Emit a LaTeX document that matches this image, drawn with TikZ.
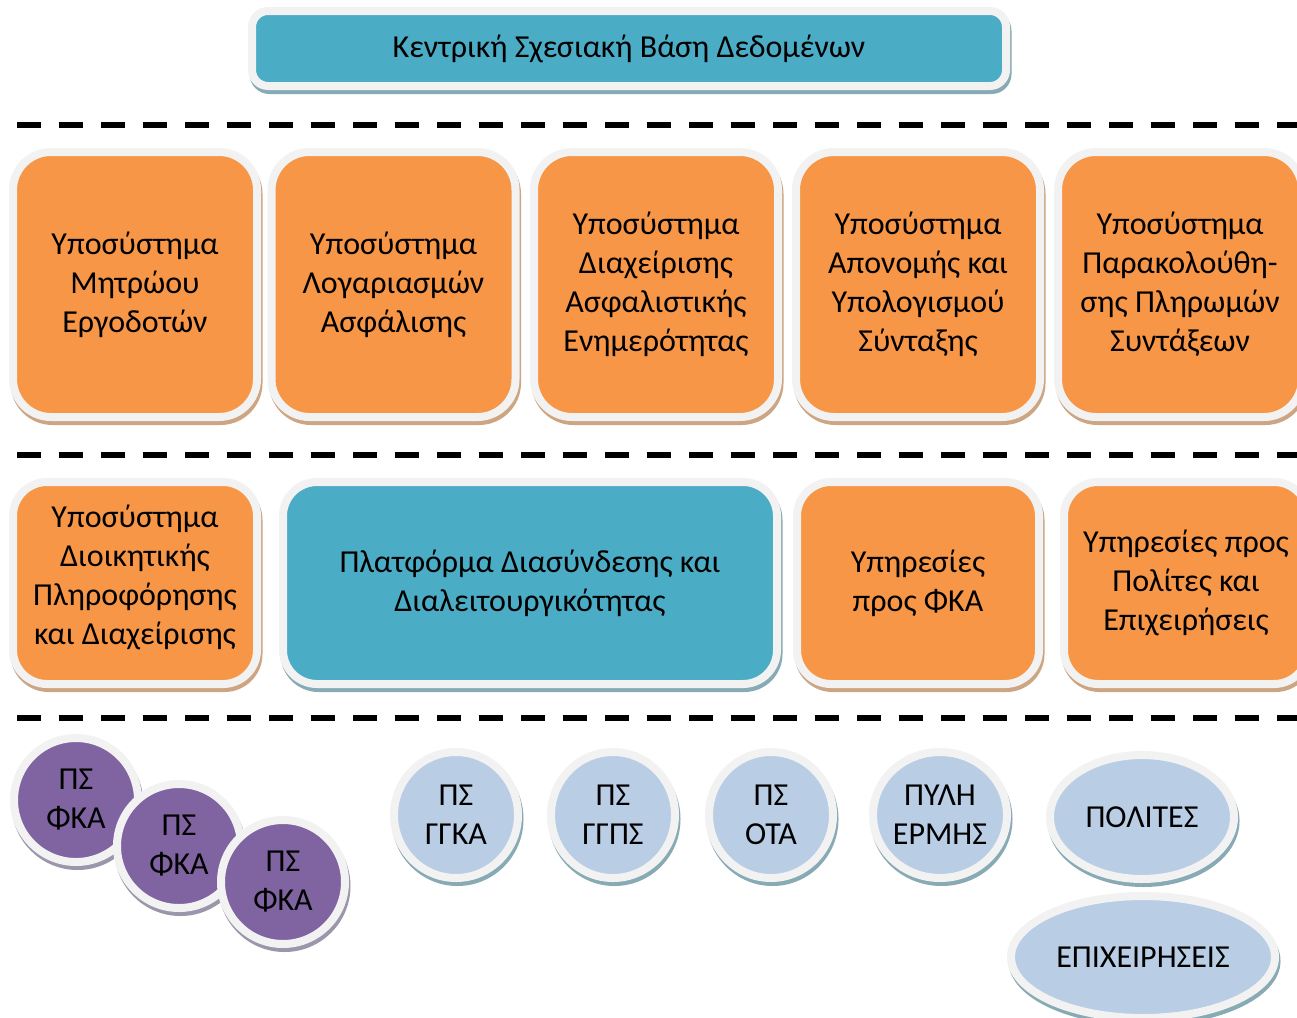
\documentclass[tikz,border=0pt]{standalone}
\usepackage{fontspec}
\setmainfont{Carlito}
\usetikzlibrary{shapes.geometric}
\definecolor{ringgray}{HTML}{F2F2F2}
\definecolor{orangef}{HTML}{F79646}
\definecolor{tealf}{HTML}{4BACC6}
\definecolor{purplef}{HTML}{8064A2}
\definecolor{bluef}{HTML}{B9CDE5}
\definecolor{oshadow}{RGB}{205,165,130}
\definecolor{tshadow}{RGB}{135,170,180}
\definecolor{pshadow}{RGB}{155,150,170}
\begin{document}
\begin{tikzpicture}[x=1pt,y=-1pt,
  shape3d/.style={draw=ringgray, line width=8pt, inner sep=0pt, align=center,
    font=\fontsize{32}{39}\selectfont,
    preaction={draw=#1, fill=#1, line width=8pt, transform canvas={shift={(1.5pt,-4pt)}}}},
  obox/.style={shape3d=oshadow, fill=orangef, rectangle, rounded corners=38pt},
  obox2/.style={shape3d=oshadow, fill=orangef, rectangle, rounded corners=34pt},
  tbox/.style={shape3d=tshadow, fill=tealf, rectangle, rounded corners=34pt},
  pcirc/.style={shape3d=pshadow, fill=purplef, ellipse, minimum width=124pt, minimum height=124pt},
  bell/.style={shape3d=tshadow, fill=bluef, ellipse},
  sepline/.style={line width=6pt, dash pattern=on 24pt off 18pt}
]
\useasboundingbox (0,0) rectangle (1297,1017);
\fill[white] (0,0) rectangle (1297,1017);

% top box
\node[tbox, rounded corners=16pt, minimum width=754pt, minimum height=75pt] (db) at (629,48.5)
  {Κεντρική Σχεσιακή Βάση Δεδομένων};

% separators
\draw[sepline] (17,125) -- (1297,125);
\draw[sepline] (17,455) -- (1297,455);
\draw[sepline] (17,718) -- (1297,718);

% row 1
\node[obox, minimum width=244pt, minimum height=265pt] (s1) at (135,284.5)
  {Υποσύστημα\\Μητρώου\\Εργοδοτών};
\node[obox, minimum width=244pt, minimum height=265pt] (s2) at (393.5,284.5)
  {Υποσύστημα\\Λογαριασμών\\Ασφάλισης};
\node[obox, minimum width=244pt, minimum height=265pt] (s3) at (656,284.5)
  {Υποσύστημα\\Διαχείρισης\\Ασφαλιστικής\\Ενημερότητας};
\node[obox, minimum width=244pt, minimum height=265pt] (s4) at (918,284.5)
  {Υποσύστημα\\Απονομής και\\Υπολογισμού\\Σύνταξης};
\node[obox, minimum width=244pt, minimum height=265pt] (s5) at (1180,284.5)
  {Υποσύστημα\\Παρακολούθη-\\σης Πληρωμών\\Συντάξεων};

% row 2
\node[obox2, minimum width=244pt, minimum height=202pt] (s6) at (135,583)
  {Υποσύστημα\\Διοικητικής\\Πληροφόρησης\\και Διαχείρισης\\[-23pt]\mbox{}};
\node[tbox, minimum width=494pt, minimum height=202pt] (pl) at (530,583)
  {Πλατφόρμα Διασύνδεσης και\\Διαλειτουργικότητας};
\node[obox2, minimum width=242pt, minimum height=202pt] (s7) at (918,583)
  {Υπηρεσίες\\προς ΦΚΑ};
\node[obox2, minimum width=244pt, minimum height=202pt] (s8) at (1186,583)
  {Υπηρεσίες προς\\Πολίτες και\\Επιχειρήσεις};

% row 3
\node[pcirc] (f1) at (76,800) {ΠΣ\\ΦΚΑ};
\node[pcirc] (f2) at (179,846) {ΠΣ\\ΦΚΑ};
\node[pcirc] (f3) at (283,882) {ΠΣ\\ΦΚΑ};
\node[bell, minimum width=124pt, minimum height=126pt] (g1) at (456,815) {ΠΣ\\ΓΓΚΑ};
\node[bell, minimum width=124pt, minimum height=126pt] (g2) at (613,815) {ΠΣ\\ΓΓΠΣ};
\node[bell, minimum width=124pt, minimum height=126pt] (g3) at (771,815) {ΠΣ\\ΟΤΑ};
\node[bell, minimum width=134pt, minimum height=126pt] (g4) at (940,815) {ΠΥΛΗ\\ΕΡΜΗΣ};
\node[bell, minimum width=184pt, minimum height=124pt] (g5) at (1142,817) {ΠΟΛΙΤΕΣ};
\node[bell, minimum width=264pt, minimum height=122pt] (g6) at (1143,957) {ΕΠΙΧΕΙΡΗΣΕΙΣ};
\end{tikzpicture}
\end{document}
